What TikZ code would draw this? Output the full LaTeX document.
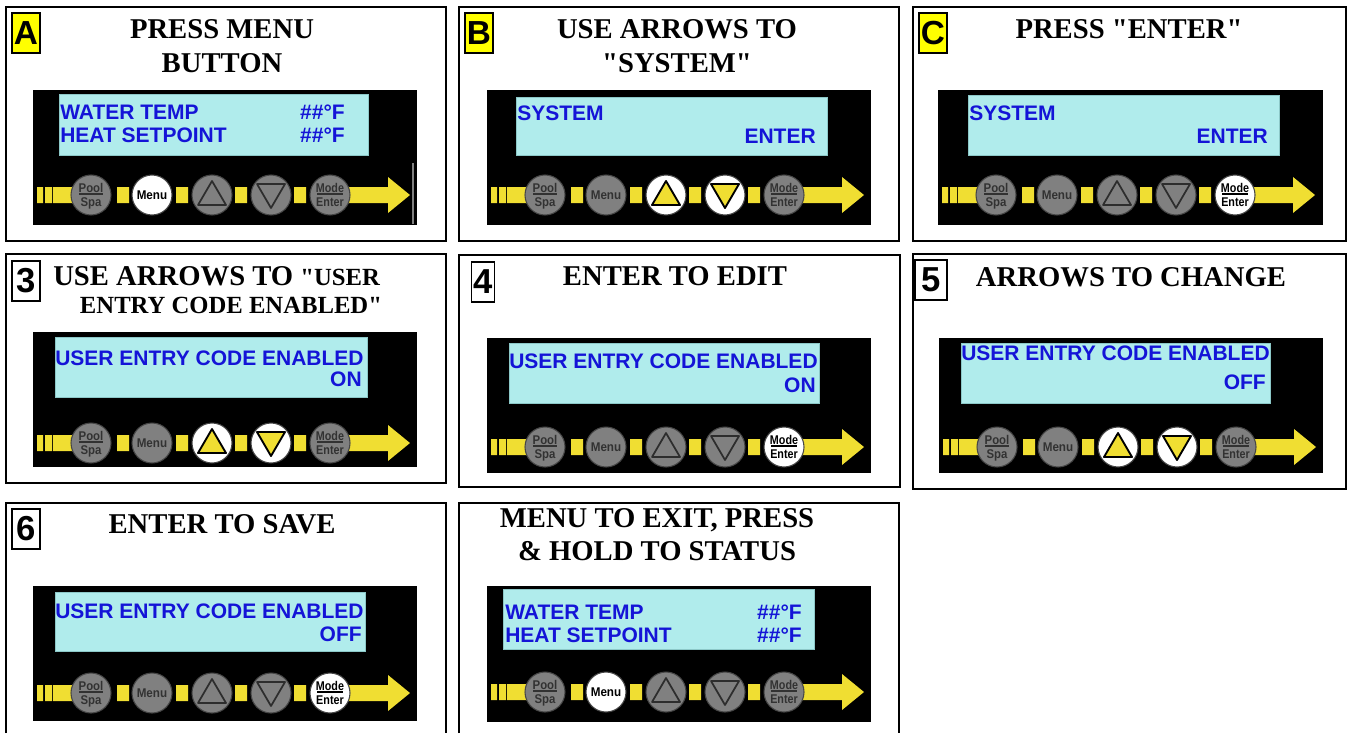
\documentclass[tikz,border=0pt]{standalone}
\usepackage{fontspec}
\setmainfont{Liberation Serif}
\newfontfamily\ttlfont{Liberation Serif}
\newfontfamily\lcdfont{Liberation Sans}
\definecolor{btngray}{RGB}{128,128,128}
\definecolor{btnedge}{RGB}{70,70,70}
\definecolor{tridark}{RGB}{45,45,45}
\definecolor{lblgray}{RGB}{50,50,50}
\definecolor{barY}{RGB}{240,222,50}
\definecolor{lcdbg}{RGB}{176,236,236}
\definecolor{lcdedge}{RGB}{140,200,200}
\definecolor{lcdblue}{RGB}{20,20,215}
\definecolor{badgeY}{RGB}{255,255,0}
\newcommand\kpad[8]{%
\begin{scope}[shift={(#1,#2)}]
\fill[barY] (4,-8) rectangle (10,8) (12,-8) rectangle (19,8) (20,-8) rectangle (45,8)
 (84,-8) rectangle (96,8) (143,-8) rectangle (155,8) (202,-8) rectangle (214,8) (261,-8) rectangle (273,8);
\fill[barY] (300,-8) -- (355,-8) -- (355,-18) -- (377,0) -- (355,18) -- (355,8) -- (300,8) -- cycle;
\draw[btn#3] (58,0) circle[radius=20];
\node[lbl#3,anchor=base] (#8pool) at (58,-3) {\scalebox{.9}[1]{Pool}};
\draw[ln#3] (46,-1) -- (70,-1);
\node[lbl#3,anchor=base] (#8spa) at (58,11) {\scalebox{.9}[1]{Spa}};
\draw[btn#4] (119,0) circle[radius=20];
\node[lbl#4,anchor=center] (#8menu) at (119,0) {\scalebox{.92}[1]{Menu}};
\draw[btn#5] (179,0) circle[radius=20];
\draw[tri#5] (165,10) -- (193,10) -- (179,-14) -- cycle;
\draw[btn#6] (238,0) circle[radius=20];
\draw[tri#6] (224,-11) -- (252,-11) -- (238,13) -- cycle;
\draw[btn#7] (297,0) circle[radius=20];
\node[lbl#7,anchor=base] (#8mode) at (297,-3) {\scalebox{.85}[1]{Mode}};
\draw[ln#7] (284,-1) -- (310,-1);
\node[lbl#7,anchor=base] (#8enter) at (297,11) {\scalebox{.85}[1]{Enter}};
\end{scope}}
\begin{document}
\begin{tikzpicture}[x=0.75pt,y=-0.75pt,
  panel/.style={draw=black,line width=1.5pt},
  lcd/.style={fill=lcdbg,draw=lcdedge,line width=0.6pt},
  btn0/.style={fill=btngray,draw=btnedge,line width=0.8pt},
  btn1/.style={fill=white,draw=btnedge,line width=0.8pt},
  tri0/.style={draw=tridark,line width=1.3pt,line join=round},
  tri1/.style={fill=barY,draw=black,line width=1.4pt,line join=round},
  lbl0/.style={text=lblgray,font=\lcdfont\bfseries\fontsize{9.5}{10}\selectfont,inner sep=0},
  lbl1/.style={text=black,font=\lcdfont\bfseries\fontsize{9.5}{10}\selectfont,inner sep=0},
  ln0/.style={draw=lblgray,line width=0.8pt},
  ln1/.style={draw=black,line width=0.8pt},
  title/.style={font=\ttlfont\bfseries\fontsize{21.5}{24}\selectfont,inner sep=0,anchor=base},
  lcdtxt/.style={font=\lcdfont\bfseries\fontsize{15.75}{18}\selectfont,text=lcdblue,inner sep=0},
  badge/.style={draw=black,line width=1.1pt,inner sep=0,minimum width=21pt,minimum height=30pt,font=\lcdfont\bfseries\fontsize{25}{27}\selectfont},
  numbadge/.style={badge,fill=white,font=\lcdfont\bfseries\fontsize{26}{28}\selectfont}]
\useasboundingbox (0,0) rectangle (1351,733);
\fill[white] (0,0) rectangle (1351,733);
% panel frames
\draw[panel] (6,7) rectangle (446,241);
\draw[panel] (459,7) rectangle (899,241);
\draw[panel] (913,7) rectangle (1346,241);
\draw[panel] (6,254) rectangle (446,483);
\draw[panel] (459,255) rectangle (900,487);
\draw[panel] (913,254) rectangle (1346,489);
\draw[panel] (6,733) -- (6,503) -- (446,503) -- (446,733);
\draw[panel] (459,733) -- (459,503) -- (899,503) -- (899,733);
% badges
\node[badge,fill=badgeY] (bA) at (26,33) {A};
\node[badge,fill=badgeY] (bB) at (479,33) {B};
\node[badge,fill=badgeY] (bC) at (933,33) {C};
\node[numbadge] (b3) at (26,281) {3};
\node[numbadge,minimum width=17pt] (b4) at (483,282) {4};
\node[numbadge,minimum width=24pt] (b5) at (931,280) {5};
\node[numbadge] (b6) at (26,529) {6};
% titles
\node[title] (tA1) at (222,38) {PRESS MENU};
\node[title] (tA2) at (222,72) {BUTTON};
\node[title] (tB1) at (677,38) {USE ARROWS TO};
\node[title] (tB2) at (677,72) {"SYSTEM"};
\node[title] (tC1) at (1129,38) {PRESS "ENTER"};
\node[title,anchor=base west] (t31) at (53,285) {USE ARROWS TO {\fontsize{18.5}{20}\selectfont "USER}};
\node[title,font=\ttlfont\bfseries\fontsize{18.5}{20}\selectfont] (t32) at (231,313) {ENTRY CODE ENABLED"};
\node[title] (t41) at (675,285) {ENTER TO EDIT};
\node[title] (t51) at (1131,286) {ARROWS TO CHANGE};
\node[title] (t61) at (222,533) {ENTER TO SAVE};
\node[title] (t71) at (657,527) {MENU TO EXIT, PRESS};
\node[title] (t72) at (657,560) {\& HOLD TO STATUS};
% ---- panel A
\fill[black] (33,90) rectangle (417,225);
\draw[lcd] (59,94) rectangle (368,155);
\node[lcdtxt,anchor=base west] (lA1) at (60,119) {WATER TEMP};
\node[lcdtxt,anchor=base west] (lA2) at (60,142) {HEAT SETPOINT};
\node[lcdtxt,anchor=base east] (lA3) at (345,119) {\#\#°F};
\node[lcdtxt,anchor=base east] (lA4) at (345,142) {\#\#°F};
\draw[gray,line width=1pt] (413,163) -- (413,224);
\kpad{33}{195}{0}{1}{0}{0}{0}{A}
% ---- panel B
\fill[black] (487,90) rectangle (871,225);
\draw[lcd] (516,97) rectangle (827,155);
\node[lcdtxt,anchor=base west] (lB1) at (517,120) {SYSTEM};
\node[lcdtxt,anchor=base east] (lB2) at (816,143) {ENTER};
\kpad{487}{195}{0}{0}{1}{1}{0}{B}
% ---- panel C
\fill[black] (938,90) rectangle (1323,225);
\draw[lcd] (968,95) rectangle (1279,155);
\node[lcdtxt,anchor=base west] (lC1) at (969,120) {SYSTEM};
\node[lcdtxt,anchor=base east] (lC2) at (1268,143) {ENTER};
\kpad{938}{195}{0}{0}{0}{0}{1}{C}
% ---- panel 3
\fill[black] (33,332) rectangle (417,467);
\draw[lcd] (55,337) rectangle (367,397);
\node[lcdtxt,anchor=base west] (l31) at (55,365) {USER ENTRY CODE ENABLED};
\node[lcdtxt,anchor=base east] (l32) at (362,386) {ON};
\kpad{33}{443}{0}{0}{1}{1}{0}{P3}
% ---- panel 4
\fill[black] (487,338) rectangle (871,473);
\draw[lcd] (509,343) rectangle (819,403);
\node[lcdtxt,anchor=base west] (l41) at (509,368) {USER ENTRY CODE ENABLED};
\node[lcdtxt,anchor=base east] (l42) at (816,392) {ON};
\kpad{487}{447}{0}{0}{0}{0}{1}{P4}
% ---- panel 5
\fill[black] (939,338) rectangle (1323,473);
\draw[lcd] (961,343) rectangle (1270,403);
\node[lcdtxt,anchor=base west] (l51) at (961,360) {USER ENTRY CODE ENABLED};
\node[lcdtxt,anchor=base east] (l52) at (1266,389) {OFF};
\kpad{939}{447}{0}{0}{1}{1}{0}{P5}
% ---- panel 6
\fill[black] (33,586) rectangle (417,721);
\draw[lcd] (55,592) rectangle (365,651);
\node[lcdtxt,anchor=base west] (l61) at (55,618) {USER ENTRY CODE ENABLED};
\node[lcdtxt,anchor=base east] (l62) at (362,641) {OFF};
\kpad{33}{693}{0}{0}{0}{0}{1}{P6}
% ---- panel 7
\fill[black] (487,586) rectangle (871,722);
\draw[lcd] (503,589) rectangle (814,649);
\node[lcdtxt,anchor=base west] (l71) at (505,619) {WATER TEMP};
\node[lcdtxt,anchor=base west] (l72) at (505,642) {HEAT SETPOINT};
\node[lcdtxt,anchor=base east] (l73) at (802,619) {\#\#°F};
\node[lcdtxt,anchor=base east] (l74) at (802,642) {\#\#°F};
\kpad{487}{692}{0}{1}{0}{0}{0}{P7}
\end{tikzpicture}
\end{document}
